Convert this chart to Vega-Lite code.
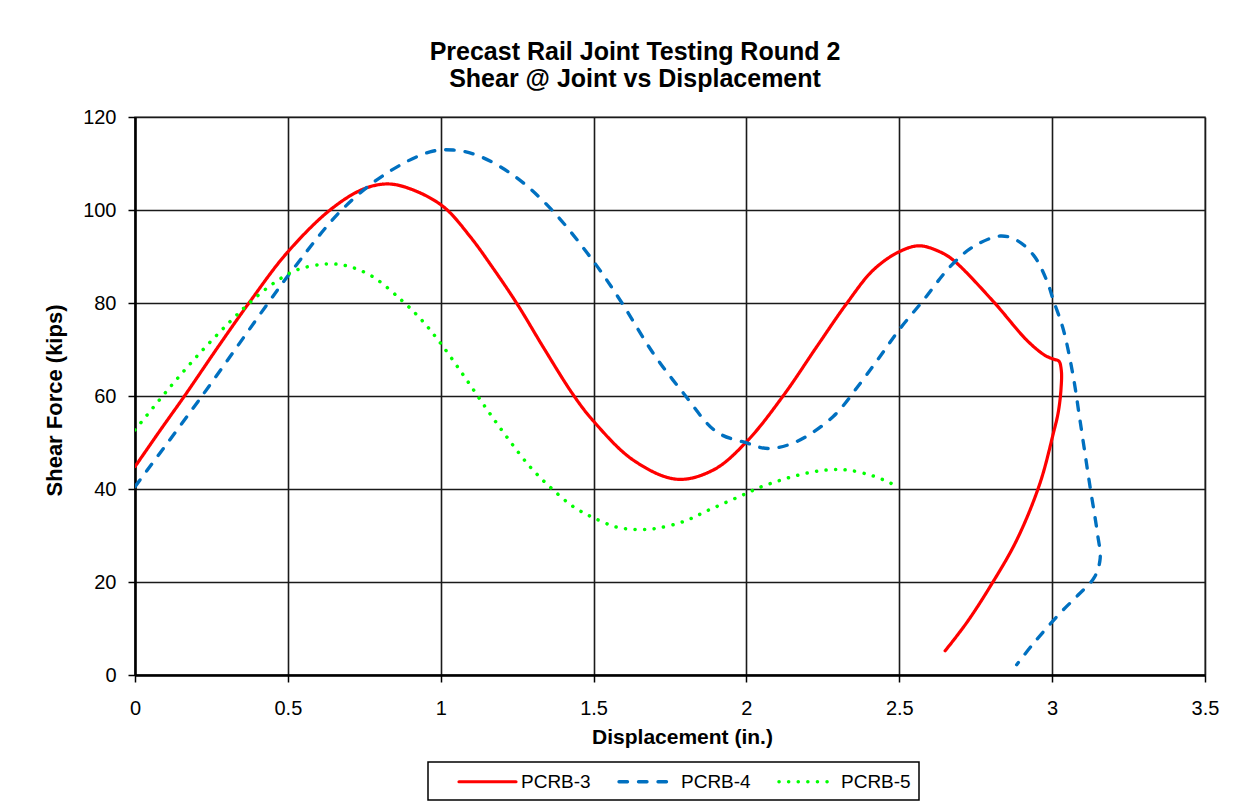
{
  "$schema": "https://vega.github.io/schema/vega-lite/v6.json",
  "width": 1070,
  "height": 558,
  "autosize": {"type": "none"},
  "padding": {"left": 135, "top": 117, "right": 44, "bottom": 134},
  "background": "white",
  "title": {
    "text": ["Precast Rail Joint Testing Round 2", "Shear @ Joint vs Displacement"],
    "font": "Liberation Sans",
    "fontSize": 25,
    "fontWeight": "bold",
    "lineHeight": 27,
    "color": "black",
    "anchor": "middle",
    "frame": "group",
    "dx": -35,
    "offset": 15
  },
  "data": {
    "values": [
      {"s": "PCRB-3", "i": 1, "x": 0, "y": 44.8},
      {"s": "PCRB-3", "i": 2, "x": 0.08, "y": 52.4},
      {"s": "PCRB-3", "i": 3, "x": 0.164, "y": 60.2},
      {"s": "PCRB-3", "i": 4, "x": 0.27, "y": 70.4},
      {"s": "PCRB-3", "i": 5, "x": 0.376, "y": 80.3},
      {"s": "PCRB-3", "i": 6, "x": 0.496, "y": 90.7},
      {"s": "PCRB-3", "i": 7, "x": 0.638, "y": 100},
      {"s": "PCRB-3", "i": 8, "x": 0.747, "y": 104.5},
      {"s": "PCRB-3", "i": 9, "x": 0.829, "y": 105.6},
      {"s": "PCRB-3", "i": 10, "x": 0.91, "y": 104.3},
      {"s": "PCRB-3", "i": 11, "x": 1.009, "y": 100.7},
      {"s": "PCRB-3", "i": 12, "x": 1.096, "y": 94.3},
      {"s": "PCRB-3", "i": 13, "x": 1.17, "y": 87.6},
      {"s": "PCRB-3", "i": 14, "x": 1.249, "y": 79.9},
      {"s": "PCRB-3", "i": 15, "x": 1.34, "y": 70.0},
      {"s": "PCRB-3", "i": 16, "x": 1.434, "y": 60.2},
      {"s": "PCRB-3", "i": 17, "x": 1.497, "y": 54.8},
      {"s": "PCRB-3", "i": 18, "x": 1.63, "y": 46.2},
      {"s": "PCRB-3", "i": 19, "x": 1.772, "y": 42.1},
      {"s": "PCRB-3", "i": 20, "x": 1.892, "y": 44.1},
      {"s": "PCRB-3", "i": 21, "x": 2.001, "y": 50.2},
      {"s": "PCRB-3", "i": 22, "x": 2.121, "y": 60.1},
      {"s": "PCRB-3", "i": 23, "x": 2.23, "y": 70.6},
      {"s": "PCRB-3", "i": 24, "x": 2.328, "y": 79.9},
      {"s": "PCRB-3", "i": 25, "x": 2.415, "y": 87.1},
      {"s": "PCRB-3", "i": 26, "x": 2.499, "y": 91.0},
      {"s": "PCRB-3", "i": 27, "x": 2.565, "y": 92.3},
      {"s": "PCRB-3", "i": 28, "x": 2.633, "y": 91.0},
      {"s": "PCRB-3", "i": 29, "x": 2.677, "y": 89.2},
      {"s": "PCRB-3", "i": 30, "x": 2.808, "y": 80.3},
      {"s": "PCRB-3", "i": 31, "x": 2.917, "y": 72.0},
      {"s": "PCRB-3", "i": 32, "x": 2.975, "y": 68.8},
      {"s": "PCRB-3", "i": 33, "x": 3.005, "y": 67.9},
      {"s": "PCRB-3", "i": 34, "x": 3.022, "y": 67.5},
      {"s": "PCRB-3", "i": 35, "x": 3.03, "y": 65.5},
      {"s": "PCRB-3", "i": 36, "x": 3.029, "y": 61.5},
      {"s": "PCRB-3", "i": 37, "x": 3.020, "y": 56.5},
      {"s": "PCRB-3", "i": 38, "x": 3.004, "y": 52.0},
      {"s": "PCRB-3", "i": 39, "x": 2.96, "y": 41.2},
      {"s": "PCRB-3", "i": 40, "x": 2.884, "y": 29.0},
      {"s": "PCRB-3", "i": 41, "x": 2.797, "y": 19.0},
      {"s": "PCRB-3", "i": 42, "x": 2.72, "y": 11.2},
      {"s": "PCRB-3", "i": 43, "x": 2.65, "y": 5.2},
      {"s": "PCRB-4", "i": 1, "x": 0, "y": 40.5},
      {"s": "PCRB-4", "i": 2, "x": 0.218, "y": 59.9},
      {"s": "PCRB-4", "i": 3, "x": 0.442, "y": 80.6},
      {"s": "PCRB-4", "i": 4, "x": 0.507, "y": 86.4},
      {"s": "PCRB-4", "i": 5, "x": 0.676, "y": 100},
      {"s": "PCRB-4", "i": 6, "x": 0.823, "y": 107.9},
      {"s": "PCRB-4", "i": 7, "x": 0.965, "y": 112.5},
      {"s": "PCRB-4", "i": 8, "x": 1.041, "y": 112.9},
      {"s": "PCRB-4", "i": 9, "x": 1.118, "y": 111.8},
      {"s": "PCRB-4", "i": 10, "x": 1.237, "y": 107.5},
      {"s": "PCRB-4", "i": 11, "x": 1.358, "y": 100.4},
      {"s": "PCRB-4", "i": 12, "x": 1.497, "y": 89.2},
      {"s": "PCRB-4", "i": 13, "x": 1.587, "y": 80.6},
      {"s": "PCRB-4", "i": 14, "x": 1.695, "y": 69.2},
      {"s": "PCRB-4", "i": 15, "x": 1.794, "y": 60.6},
      {"s": "PCRB-4", "i": 16, "x": 1.902, "y": 52.3},
      {"s": "PCRB-4", "i": 17, "x": 2.001, "y": 49.9},
      {"s": "PCRB-4", "i": 18, "x": 2.072, "y": 48.7},
      {"s": "PCRB-4", "i": 19, "x": 2.164, "y": 50.2},
      {"s": "PCRB-4", "i": 20, "x": 2.284, "y": 55.6},
      {"s": "PCRB-4", "i": 21, "x": 2.372, "y": 62.7},
      {"s": "PCRB-4", "i": 22, "x": 2.437, "y": 68.5},
      {"s": "PCRB-4", "i": 23, "x": 2.499, "y": 74.2},
      {"s": "PCRB-4", "i": 24, "x": 2.579, "y": 80.6},
      {"s": "PCRB-4", "i": 25, "x": 2.666, "y": 87.8},
      {"s": "PCRB-4", "i": 26, "x": 2.742, "y": 92.1},
      {"s": "PCRB-4", "i": 27, "x": 2.83, "y": 94.4},
      {"s": "PCRB-4", "i": 28, "x": 2.884, "y": 93.5},
      {"s": "PCRB-4", "i": 29, "x": 2.939, "y": 90.3},
      {"s": "PCRB-4", "i": 30, "x": 2.982, "y": 84.9},
      {"s": "PCRB-4", "i": 31, "x": 3.004, "y": 80.6},
      {"s": "PCRB-4", "i": 32, "x": 3.037, "y": 74.2},
      {"s": "PCRB-4", "i": 33, "x": 3.069, "y": 64.2},
      {"s": "PCRB-4", "i": 34, "x": 3.091, "y": 54.8},
      {"s": "PCRB-4", "i": 35, "x": 3.124, "y": 40.5},
      {"s": "PCRB-4", "i": 36, "x": 3.148, "y": 30.5},
      {"s": "PCRB-4", "i": 37, "x": 3.157, "y": 25.0},
      {"s": "PCRB-4", "i": 38, "x": 3.138, "y": 21.0},
      {"s": "PCRB-4", "i": 39, "x": 3.085, "y": 17.2},
      {"s": "PCRB-4", "i": 40, "x": 3.026, "y": 13.3},
      {"s": "PCRB-4", "i": 41, "x": 2.939, "y": 6.8},
      {"s": "PCRB-4", "i": 42, "x": 2.884, "y": 2.2},
      {"s": "PCRB-5", "i": 1, "x": 0, "y": 52.7},
      {"s": "PCRB-5", "i": 2, "x": 0.098, "y": 60.6},
      {"s": "PCRB-5", "i": 3, "x": 0.202, "y": 68.5},
      {"s": "PCRB-5", "i": 4, "x": 0.311, "y": 76.0},
      {"s": "PCRB-5", "i": 5, "x": 0.376, "y": 80.1},
      {"s": "PCRB-5", "i": 6, "x": 0.452, "y": 84.2},
      {"s": "PCRB-5", "i": 7, "x": 0.529, "y": 87.1},
      {"s": "PCRB-5", "i": 8, "x": 0.627, "y": 88.4},
      {"s": "PCRB-5", "i": 9, "x": 0.692, "y": 88.0},
      {"s": "PCRB-5", "i": 10, "x": 0.774, "y": 85.8},
      {"s": "PCRB-5", "i": 11, "x": 0.872, "y": 80.6},
      {"s": "PCRB-5", "i": 12, "x": 0.938, "y": 76.3},
      {"s": "PCRB-5", "i": 13, "x": 1.0, "y": 71.3},
      {"s": "PCRB-5", "i": 14, "x": 1.074, "y": 64.5},
      {"s": "PCRB-5", "i": 15, "x": 1.145, "y": 57.7},
      {"s": "PCRB-5", "i": 16, "x": 1.216, "y": 51.2},
      {"s": "PCRB-5", "i": 17, "x": 1.292, "y": 44.8},
      {"s": "PCRB-5", "i": 18, "x": 1.363, "y": 40.1},
      {"s": "PCRB-5", "i": 19, "x": 1.434, "y": 36.2},
      {"s": "PCRB-5", "i": 20, "x": 1.497, "y": 33.9},
      {"s": "PCRB-5", "i": 21, "x": 1.576, "y": 31.8},
      {"s": "PCRB-5", "i": 22, "x": 1.641, "y": 31.3},
      {"s": "PCRB-5", "i": 23, "x": 1.701, "y": 31.5},
      {"s": "PCRB-5", "i": 24, "x": 1.794, "y": 33.0},
      {"s": "PCRB-5", "i": 25, "x": 1.881, "y": 35.6},
      {"s": "PCRB-5", "i": 26, "x": 1.995, "y": 38.9},
      {"s": "PCRB-5", "i": 27, "x": 2.05, "y": 40.5},
      {"s": "PCRB-5", "i": 28, "x": 2.17, "y": 43.0},
      {"s": "PCRB-5", "i": 29, "x": 2.263, "y": 44.1},
      {"s": "PCRB-5", "i": 30, "x": 2.328, "y": 44.1},
      {"s": "PCRB-5", "i": 31, "x": 2.415, "y": 42.8},
      {"s": "PCRB-5", "i": 32, "x": 2.48, "y": 41.0}
    ]
  },
  "mark": {"type": "line", "interpolate": "catmull-rom", "strokeCap": "round", "clip": true},
  "encoding": {
    "x": {
      "field": "x", "type": "quantitative",
      "scale": {"domain": [0, 3.5], "nice": false, "zero": false},
      "axis": {"values": [0, 0.5, 1, 1.5, 2, 2.5, 3, 3.5], "format": "~g", "title": "Displacement (in.)", "titlePadding": 8, "labelPadding": 16, "titleX": 547, "titleFontSize": 21}
    },
    "y": {
      "field": "y", "type": "quantitative",
      "scale": {"domain": [0, 120], "nice": false},
      "axis": {"values": [0, 20, 40, 60, 80, 100, 120], "title": "Shear Force (kips)", "titlePadding": 16, "labelPadding": 12, "titleY": 283, "titleFontSize": 22}
    },
    "order": {"field": "i", "type": "quantitative"},
    "strokeWidth": {
      "field": "s", "type": "nominal",
      "scale": {"domain": ["PCRB-3", "PCRB-4", "PCRB-5"], "range": [3.2, 3.5, 5]},
      "legend": null
    },
    "color": {
      "field": "s", "type": "nominal",
      "scale": {"domain": ["PCRB-3", "PCRB-4", "PCRB-5"], "range": ["#FF0000", "#0070C0", "#00FF00"]},
      "legend": {"title": null, "symbolType": "M-3,0L3,0", "symbolSize": 361, "encode": {"symbols": {"update": {"strokeCap": {"value": "round"}, "strokeWidth": {"signal": "datum.value === 'PCRB-5' ? 5 : 3.5"}}}}}
    },
    "strokeDash": {
      "field": "s", "type": "nominal",
      "scale": {"domain": ["PCRB-3", "PCRB-4", "PCRB-5"], "range": [[1, 0], [8.5, 11], [0.1, 9.5]]},
      "legend": {"title": null, "symbolType": "M-3,0L3,0", "symbolSize": 361, "encode": {"symbols": {"update": {"strokeCap": {"value": "round"}, "strokeWidth": {"signal": "datum.value === 'PCRB-5' ? 5 : 3.5"}}}}}
    }
  },
  "config": {
    "font": "Liberation Sans",
    "view": {"stroke": "#808080", "strokeWidth": 1.5},
    "axis": {
      "grid": true,
      "gridColor": "#1a1a1a",
      "gridWidth": 1.6,
      "gridOpacity": 1,
      "domainColor": "black",
      "domainWidth": 2.5,
      "tickColor": "black",
      "tickSize": 7,
      "tickWidth": 1.5,
      "labelFont": "Liberation Sans",
      "labelFontSize": 20,
      "labelColor": "black",
      "labelFlush": false,
      "labelOverlap": false,
      "titleFont": "Liberation Sans",
      "titleFontWeight": "bold",
      "titleColor": "black"
    },
    "legend": {
      "orient": "none",
      "legendX": 293,
      "legendY": 645,
      "direction": "horizontal",
      "strokeColor": "black",
      "strokeWidth": 1.5,
      "fillColor": "white",
      "padding": 8,
      "symbolStrokeWidth": 3.5,
      "symbolOffset": 40,
      "labelFont": "Liberation Sans",
      "labelFontSize": 19,
      "labelColor": "black",
      "labelOffset": 22,
      "columnPadding": 5
    }
  }
}
